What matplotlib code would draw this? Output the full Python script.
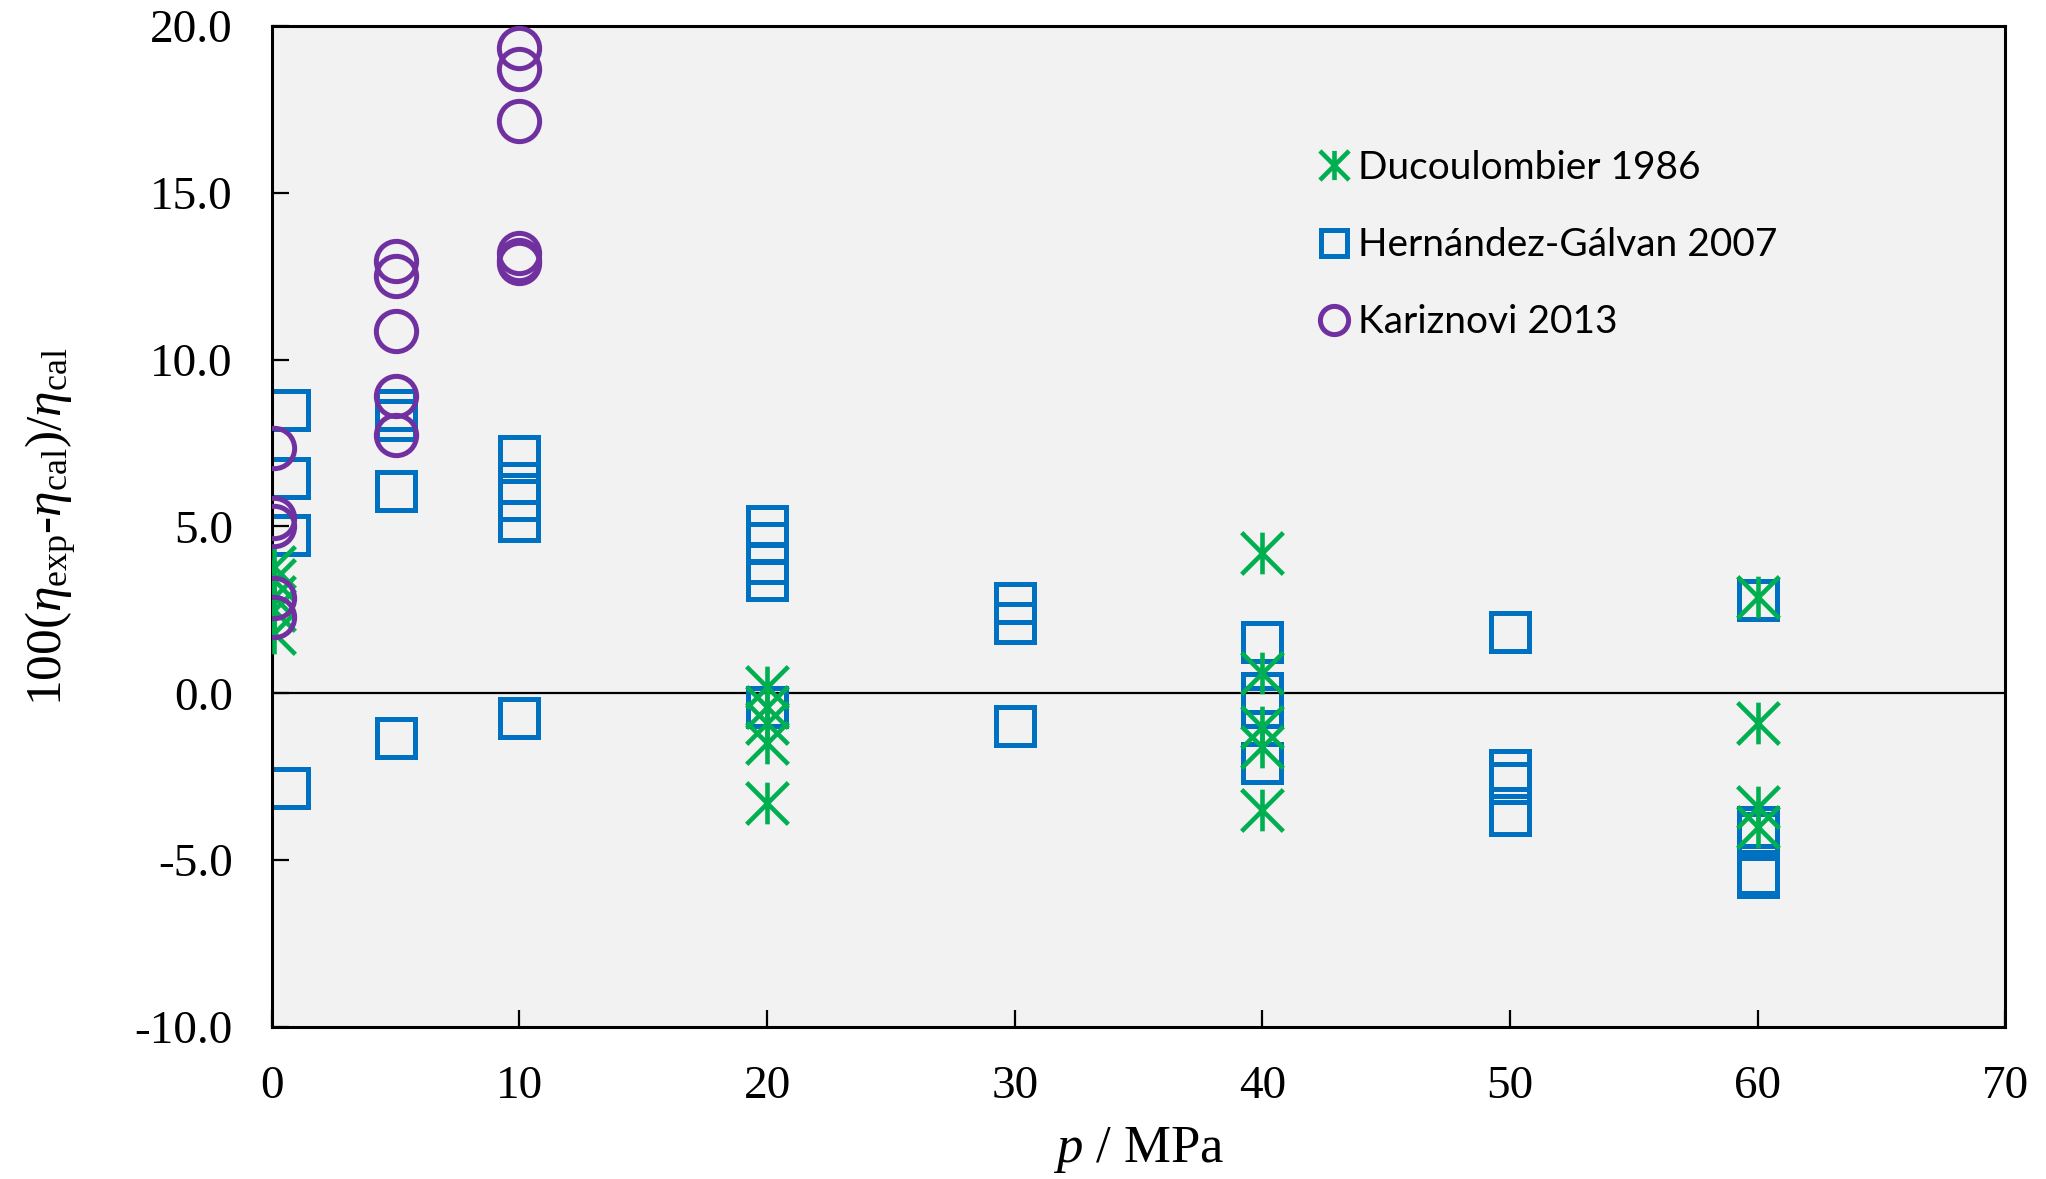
import numpy as np
import matplotlib.pyplot as plt
from matplotlib.path import Path
import matplotlib

matplotlib.rcParams['font.family'] = 'serif'
matplotlib.rcParams['font.serif'] = ['Liberation Serif']
matplotlib.rcParams['mathtext.fontset'] = 'custom'
matplotlib.rcParams['mathtext.rm'] = 'Liberation Serif'
matplotlib.rcParams['mathtext.it'] = 'Liberation Serif:italic'
matplotlib.rcParams['axes.unicode_minus'] = False

# Ducoulombier 1986
p_duc = [0.1, 0.1, 0.1, 0.1, 0.1,
         20, 20, 20, 20, 20,
         40, 40, 40, 40, 40,
         60, 60, 60, 60]
dev_duc = [3.8, 3.4, 2.9, 2.5, 1.8,
           0.2, -0.4, -0.9, -1.5, -3.3,
           4.2, 0.6, -1.0, -1.6, -3.5,
           2.9, -0.9, -3.4, -4.0]

# Hernandez-Galvan 2007
p_her = [0.7, 0.7, 0.7, 0.7,
         5, 5, 5, 5,
         10, 10, 10, 10, 10,
         20, 20, 20, 20, 20,
         30, 30, 30,
         40, 40, 40, 40,
         50, 50, 50, 50,
         60, 60, 60, 60, 60]
dev_her = [8.5, 6.45, 4.75, -2.85,
           8.5, 8.2, 6.05, -1.35,
           7.1, 6.3, 5.8, 5.15, -0.75,
           5.0, 4.5, 3.9, 3.4, -0.4,
           2.7, 2.1, -0.97,
           1.55, 0.0, -0.4, -2.1,
           1.85, -2.3, -2.7, -3.65,
           2.8, -4.0, -4.2, -5.4, -5.5]

# Kariznovi 2013
p_kar = [0.1, 0.1, 0.1, 0.1, 0.1,
         5, 5, 5, 5, 5,
         10, 10, 10, 10, 10, 10]
dev_kar = [7.35, 5.25, 5.0, 2.85, 2.3,
           12.95, 12.5, 10.85, 8.9, 7.75,
           19.35, 18.7, 17.15, 13.2, 13.0, 12.9]

# excel style asterisk marker: vertical bar + x
star = Path([(0, -1), (0, 1), (-1, -1), (1, 1), (-1, 1), (1, -1)],
            [Path.MOVETO, Path.LINETO] * 3)

fig = plt.figure(figsize=(20.46, 11.79), dpi=100)
ax = fig.add_axes([0.1328, 0.1289, 0.8474, 0.8491])
ax.set_facecolor('#F2F2F2')

ax.axhline(0, color='black', lw=1.6, zorder=1)

ax.plot(p_duc, dev_duc, ls='none', marker=star, ms=30, mew=3.3,
        mec='#00B050', mfc='none', label='Ducoulombier 1986', zorder=3)
ax.plot(p_her, dev_her, ls='none', marker='s', ms=27, mew=3.6,
        mec='#0070C0', mfc='none', label='Hernández-Gálvan 2007', zorder=2)
ax.plot(p_kar, dev_kar, ls='none', marker='o', ms=29, mew=3.6,
        mec='#7030A0', mfc='none', label='Kariznovi 2013', zorder=4)

ax.set_xlim(0, 70)
ax.set_ylim(-10, 20)
ax.set_xticks(np.arange(0, 71, 10))
ax.set_yticks(np.arange(-10, 20.1, 5))
ax.yaxis.set_major_formatter(matplotlib.ticker.FormatStrFormatter('%.1f'))
ax.tick_params(direction='in', length=12, width=1.6, labelsize=34, pad=28)

for s in ax.spines.values():
    s.set_linewidth(2.2)

ax.set_xlabel('$p$ / MPa', fontsize=38, labelpad=12)
ax.set_ylabel(r'100($\eta_{\rm exp}$-$\eta_{\rm cal}$)/$\eta_{\rm cal}$', fontsize=37, labelpad=40)

leg = ax.legend(loc='upper left', bbox_to_anchor=(0.586, 0.911), frameon=False,
                markerscale=0.7, handlelength=0.6, handletextpad=0.3,
                labelspacing=1.06, prop={'family': 'Lato', 'size': 28})

plt.savefig('out.png', dpi=100)
